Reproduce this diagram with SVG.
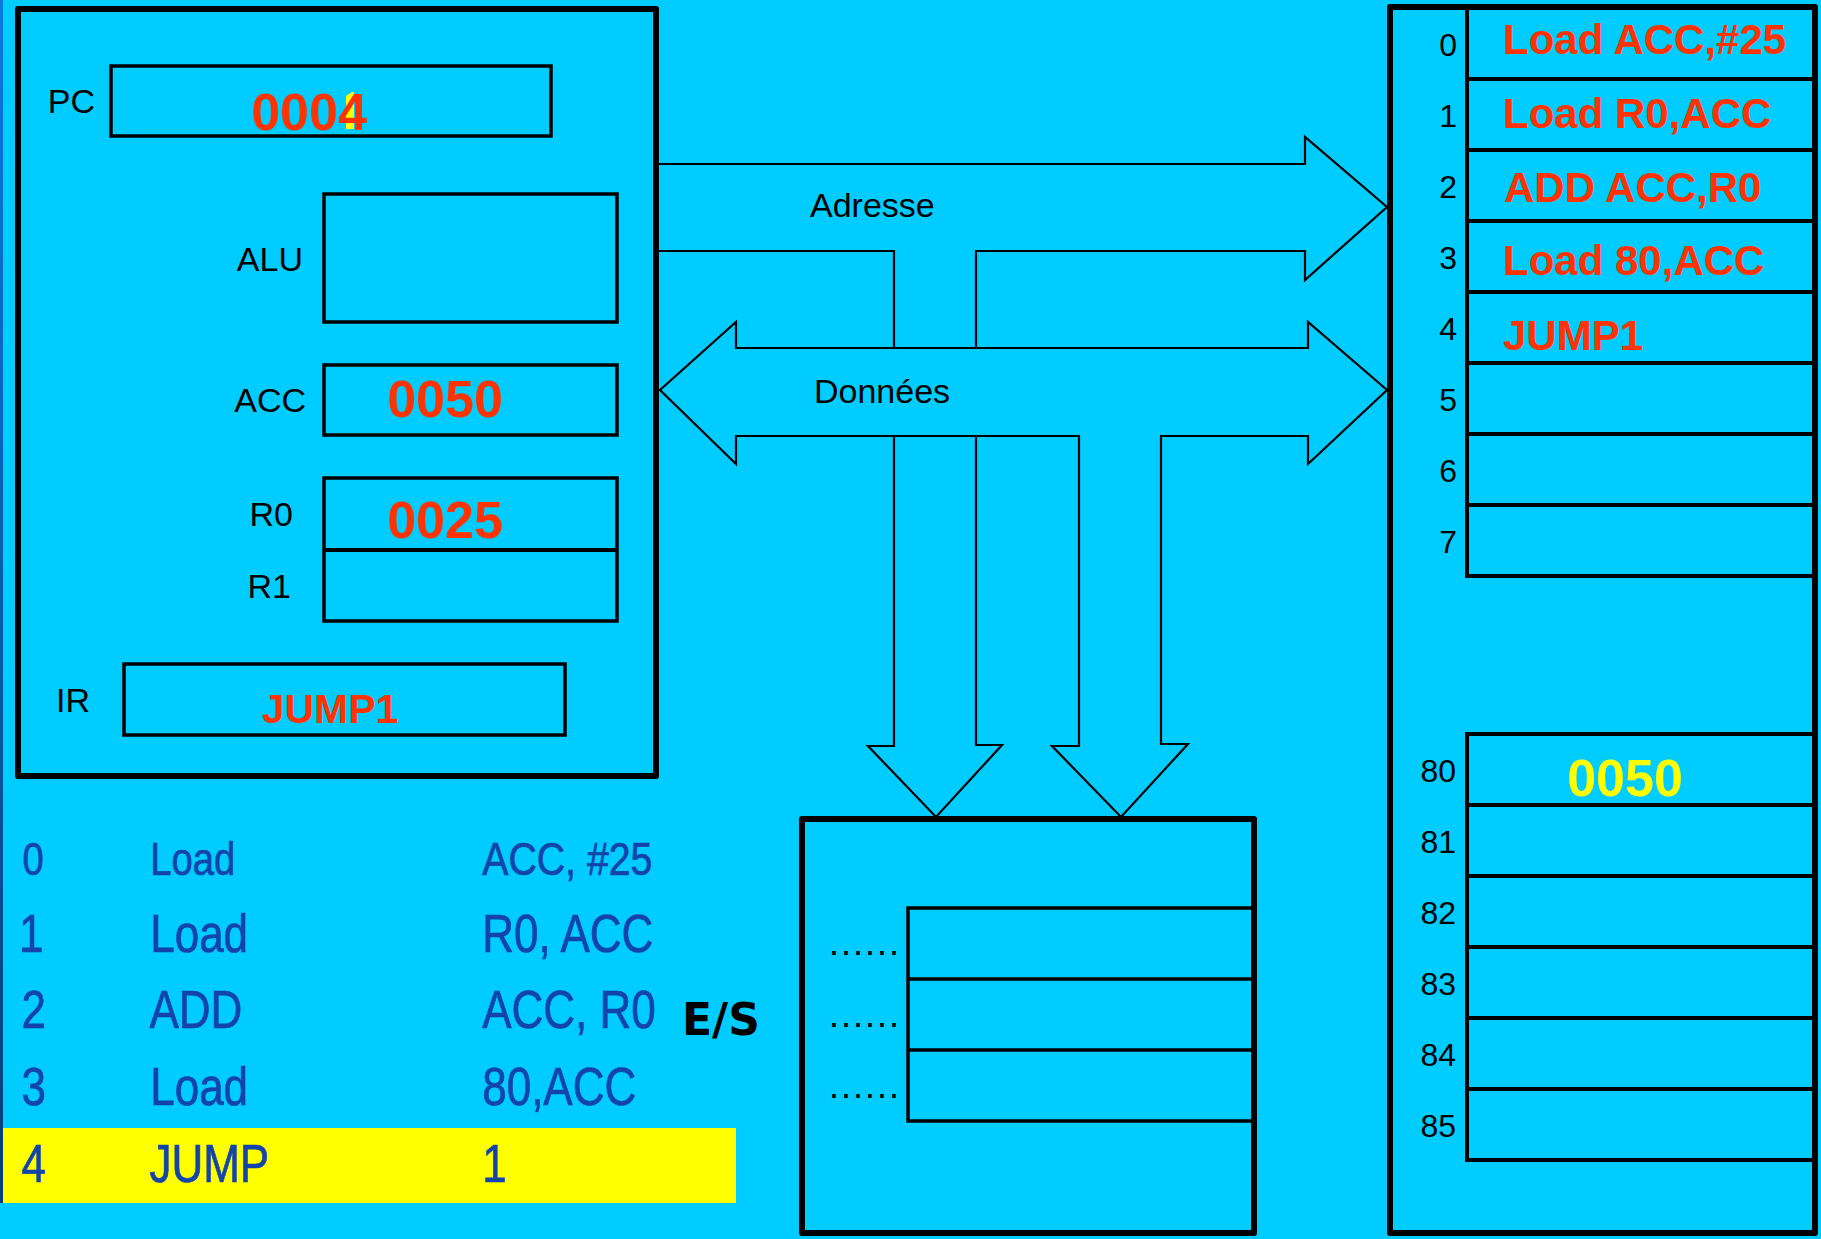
<svg xmlns="http://www.w3.org/2000/svg" width="1821" height="1239" viewBox="0 0 1821 1239">
<defs>
<linearGradient id="strip" x1="0" y1="0" x2="0" y2="1">
<stop offset="0" stop-color="#0A7AE0"/>
<stop offset="1" stop-color="#073E78"/>
</linearGradient>
</defs>
<style>
.frame{fill:none;stroke:#000;stroke-width:6;stroke-linejoin:round}
.box{fill:none;stroke:#000;stroke-width:3.5}
.cell{fill:none;stroke:#000;stroke-width:4}
.bus{fill:none;stroke:#000;stroke-width:2.2;stroke-linejoin:miter}
.lbl{font-family:"Liberation Sans",Arial,sans-serif;font-size:34px;fill:#000}
.addr{font-family:"Liberation Sans",Arial,sans-serif;font-size:32px;fill:#000;text-anchor:end}
.red{font-family:"Liberation Sans",Arial,sans-serif;font-weight:bold;fill:#FF3300}
.prog{font-family:"Liberation Sans",Arial,sans-serif;fill:#1244AA;stroke:#1244AA;stroke-width:0.7}
.dots{font-family:"Liberation Sans",Arial,sans-serif;font-size:36px;letter-spacing:2px;fill:#000}
</style>
<rect x="0" y="0" width="1821" height="1239" fill="#00CCFF"/>
<rect x="0" y="0" width="3" height="1203" fill="url(#strip)"/>
<rect x="3" y="1128" width="733" height="75" fill="#FFFF00"/>

<g id="connectors">
<path class="bus" d="M657,164 H1305 V137 L1387,207 L1305,280 V251 H976 V348 M894,348 V251 H657"/>
<path class="bus" d="M736,464 L660,390 L736,322 V348 H1308 V322 L1387,390 L1308,464 V436 H1161 V744 H1188 L1121,817 L1052,746 H1079 V436 H736 Z"/>
<path class="bus" d="M894,436 V746 H868 L936,817 L1002,745 H976 V436"/>
<text class="lbl" x="810" y="217" font-size="33">Adresse</text>
<text class="lbl" x="814" y="403" font-size="33">Données</text>
</g>

<g id="cpu">
<rect class="frame" x="18" y="9" width="638" height="767"/>
<g id="pc">
<rect class="box" x="111" y="66" width="440" height="70"/>
<text class="lbl" x="95" y="113" text-anchor="end">PC</text>
<polygon points="346,96 352,92 354,92 354,129 346,129" fill="#FFFF00"/>
<text class="red" x="309" y="130" font-size="52" text-anchor="middle">0004</text>
</g>
<g id="alu">
<rect class="box" x="324" y="194" width="293" height="128"/>
<text class="lbl" x="303" y="271" text-anchor="end">ALU</text>
</g>
<g id="acc">
<rect class="box" x="324" y="365" width="293" height="70"/>
<text class="lbl" x="306" y="412" text-anchor="end">ACC</text>
<text class="red" x="445" y="417" font-size="52" text-anchor="middle">0050</text>
</g>
<g id="r0r1">
<rect class="box" x="324" y="478" width="293" height="143"/>
<line x1="324" y1="550" x2="617" y2="550" stroke="#000" stroke-width="4"/>
<text class="lbl" x="293" y="526" text-anchor="end">R0</text>
<text class="lbl" x="291" y="598" text-anchor="end">R1</text>
<text class="red" x="445" y="538" font-size="52" text-anchor="middle">0025</text>
</g>
<g id="ir">
<rect class="box" x="124" y="664" width="441" height="71"/>
<text class="lbl" x="90" y="712" text-anchor="end">IR</text>
<text class="red" x="330" y="723" font-size="41" text-anchor="middle">JUMP1</text>
</g>
</g>

<g id="program" transform="scale(0.83,1)">
<g font-size="46" class="prog">
<text x="27" y="875">0</text>
<text x="181" y="875">Load</text>
<text x="581" y="875" textLength="205" lengthAdjust="spacingAndGlyphs">ACC, #25</text>
</g>
<g font-size="53" class="prog">
<text x="23" y="952">1</text>
<text x="181" y="952">Load</text>
<text x="581" y="952">R0, ACC</text>
<text x="26" y="1028">2</text>
<text x="180" y="1028">ADD</text>
<text x="581" y="1028">ACC, R0</text>
<text x="26" y="1105">3</text>
<text x="181" y="1105">Load</text>
<text x="581" y="1105">80,ACC</text>
<text x="26" y="1182">4</text>
<text x="180" y="1182">JUMP</text>
<text x="581" y="1182">1</text>
</g>
</g>

<g id="io">
<rect class="frame" x="802" y="819" width="452" height="414"/>
<path class="box" d="M1254,908 H908 V1121 H1254 M908,979 H1254 M908,1050 H1254"/>
<text class="dots" x="829" y="955">......</text>
<text class="dots" x="829" y="1027">......</text>
<text class="dots" x="829" y="1098">......</text>
<text x="682" y="1035" font-family="'DejaVu Sans',sans-serif" font-weight="bold" font-size="44" fill="#000">E/S</text>
</g>

<g id="memory">
<rect class="frame" x="1390" y="7" width="425" height="1226"/>
<path class="cell" d="M1467,8 V576 H1815 M1467,79 H1815 M1467,150 H1815 M1467,221 H1815 M1467,292 H1815 M1467,363 H1815 M1467,434 H1815 M1467,505 H1815"/>
<path class="cell" d="M1815,734 H1467 V1160 H1815 M1467,805 H1815 M1467,876 H1815 M1467,947 H1815 M1467,1018 H1815 M1467,1089 H1815"/>
<text class="addr" x="1457" y="56">0</text>
<text class="addr" x="1457" y="127">1</text>
<text class="addr" x="1457" y="198">2</text>
<text class="addr" x="1457" y="269">3</text>
<text class="addr" x="1457" y="340">4</text>
<text class="addr" x="1457" y="411">5</text>
<text class="addr" x="1457" y="482">6</text>
<text class="addr" x="1457" y="553">7</text>
<text class="addr" x="1456" y="782">80</text>
<text class="addr" x="1456" y="853">81</text>
<text class="addr" x="1456" y="924">82</text>
<text class="addr" x="1456" y="995">83</text>
<text class="addr" x="1456" y="1066">84</text>
<text class="addr" x="1456" y="1137">85</text>
<text class="red" x="1503" y="54" font-size="42">Load ACC,#25</text>
<text class="red" x="1503" y="128" font-size="42">Load R0,ACC</text>
<text class="red" x="1504" y="202" font-size="42">ADD ACC,R0</text>
<text class="red" x="1503" y="275" font-size="42">Load 80,ACC</text>
<text class="red" x="1503" y="350" font-size="42">JUMP1</text>
<text x="1625" y="796" font-family="'Liberation Sans',Arial,sans-serif" font-weight="bold" font-size="52" fill="#FFFF00" text-anchor="middle">0050</text>
</g>
</svg>
